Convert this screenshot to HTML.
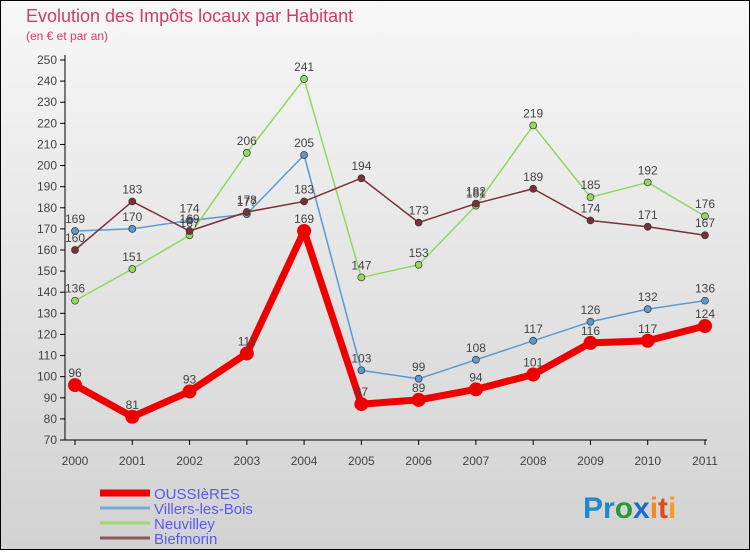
<!DOCTYPE html>
<html><head><meta charset="utf-8"><style>
body{margin:0;width:750px;height:550px;overflow:hidden;font-family:"Liberation Sans",sans-serif}
</style></head><body>
<svg id="c" width="750" height="550" xmlns="http://www.w3.org/2000/svg">
<defs><linearGradient id="bg" x1="0" y1="0" x2="0" y2="1"><stop offset="0" stop-color="#f7f7f7"/><stop offset="1" stop-color="#d2d2d2"/></linearGradient></defs>
<rect x="0.5" y="0.5" width="749" height="549" fill="url(#bg)" stroke="#000"/>
<text x="26" y="22" font-size="18" fill="#d23c64">Evolution des Impôts locaux par Habitant</text>
<text x="26" y="40" font-size="12" fill="#d23c64">(en € et par an)</text>
<g id="axes"></g><g id="series"></g><g id="legend"></g>
<text x="583" y="518" font-size="30" font-weight="bold"><tspan fill="#1e8acc">Pr</tspan><tspan fill="#2a9a3a">o</tspan><tspan fill="#1e6acc">x</tspan><tspan fill="#f08a1e">i</tspan><tspan fill="#e04a1e">t</tspan><tspan fill="#f0a01e">i</tspan></text>
</svg>
<script>
const years=["2000","2001","2002","2003","2004","2005","2006","2007","2008","2009","2010","2011"];
const yTicks=[70,80,90,100,110,120,130,140,150,160,170,180,190,200,210,220,230,240,250];
const oussieres=[96,81,93,111,169,87,89,94,101,116,117,124];
const villers=[169,170,174,177,205,103,99,108,117,126,132,136];
const neuvilley=[136,151,167,206,241,147,153,181,219,185,192,176];
const biefmorin=[160,183,169,178,183,194,173,182,189,174,171,167];
const NS="http://www.w3.org/2000/svg";
const xS=i=>75+i*(630/11);
const yS=v=>440-(v-70)*380/180;
function mk(tag,attrs,parent){const e=document.createElementNS(NS,tag);for(const k in attrs)e.setAttribute(k,attrs[k]);parent.appendChild(e);return e;}
const ax=document.getElementById('axes');
let e=mk('line',{x1:65,y1:440,x2:707,y2:440,stroke:'#000'},ax);


e=mk('line',{x1:65,y1:55,x2:65,y2:440,stroke:'#000'},ax);


yTicks.forEach(v=>{
 const y=yS(v);
 mk('line',{x1:60,y1:y,x2:65,y2:y,stroke:'#000'},ax);
 const t=mk('text',{x:57,y:y+4,'font-size':12,'text-anchor':'end',fill:'#444'},ax);
 t.textContent=v;
 
 
});
years.forEach((yr,i)=>{
 const x=xS(i);
 mk('line',{x1:x,y1:440,x2:x,y2:445,stroke:'#000'},ax);
 const t=mk('text',{x:x,y:465,'font-size':12,'text-anchor':'middle',fill:'#444'},ax);
 t.textContent=yr;
 
 
});
const sg=document.getElementById('series');
const defs=[
 {d:villers,c:'#5a9ad0',w:1.5,r:3.5,name:'villers-les-bois'},
 {d:neuvilley,c:'#90d860',w:1.5,r:3.5,name:'neuvilley'},
 {d:biefmorin,c:'#7a3038',w:1.5,r:3.5,name:'biefmorin'},
 {d:oussieres,c:'#ee0000',w:7,r:7,name:'oussieres'}];
defs.forEach(s=>{
 const g=mk('g',{},sg);
 
 
 const p=mk('polyline',{points:s.d.map((v,i)=>xS(i)+','+yS(v)).join(' '),fill:'none',stroke:s.c,'stroke-width':s.w,'stroke-linejoin':'round'},g);
 
 
 s.d.forEach((v,i)=>{
  const c=mk('circle',{cx:xS(i),cy:yS(v),r:s.r,fill:s.c,stroke:'#333','stroke-width':s.w>2?0:0.7},g);
  
  
  const t=mk('text',{x:xS(i),y:yS(v)-8,'font-size':12,'text-anchor':'middle',fill:'#444'},g);
  t.textContent=v;
  
  
 });
});
const lg=document.getElementById('legend');
const leg=[['OUSSIèRES','#ee0000',7],['Villers-les-Bois','#7aaad0',3],['Neuvilley','#a0d870',3],['Biefmorin','#8a5a5a',3]];
leg.forEach((l,i)=>{
 const y=493+i*15;
 const ln=mk('line',{x1:100,y1:y,x2:150,y2:y,stroke:l[1],'stroke-width':l[2]},lg);
 
 
 const t=mk('text',{x:154,y:y+6,'font-size':15,fill:'#5a5af0'},lg);
 t.textContent=l[0];
 
 
});
</script>
</body></html>
